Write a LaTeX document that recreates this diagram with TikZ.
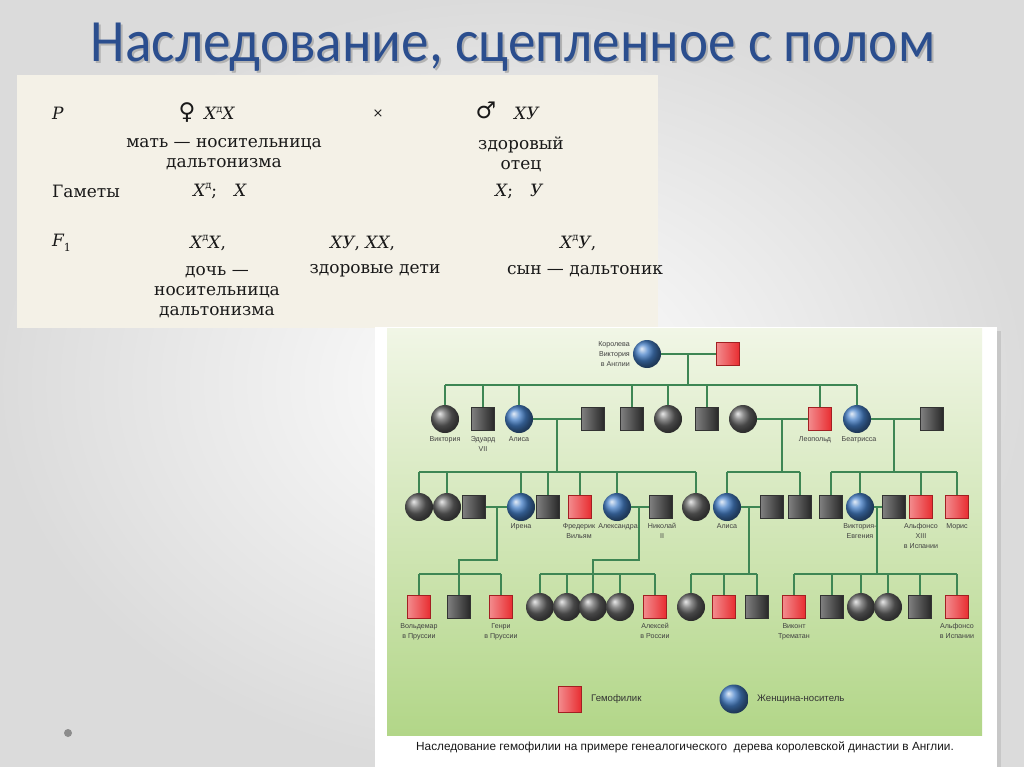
\documentclass[tikz,border=0pt]{standalone}
\usepackage{fontspec}
\setmainfont{DejaVu Serif}
\newfontfamily\titlefont{Carlito}
\newfontfamily\pedfont{Liberation Sans}
\newfontfamily\symfont{DejaVu Sans}
\usetikzlibrary{positioning,shadings}

\definecolor{titleblue}{RGB}{43,78,142}
\definecolor{kingreen}{RGB}{62,134,84}
\definecolor{carrierblue}{RGB}{70,128,200}
\definecolor{hemored}{RGB}{232,44,48}
\definecolor{paper}{RGB}{244,241,231}
\definecolor{paneltop}{RGB}{241,246,230}
\definecolor{panelbot}{RGB}{178,214,136}

\newcommand{\gsup}{\raisebox{0.8ex}{\upshape\fontsize{10}{10}\selectfont д}}
\newcommand{\ttltext}{Наследование, сцепленное с полом}

\tikzset{
  kin/.style={draw=kingreen, line width=2pt},
  carrier/.style={circle, minimum size=28pt, inner sep=0pt, ball color=carrierblue},
  healthyf/.style={circle, minimum size=28pt, inner sep=0pt, ball color=black!60},
  healthym/.style={rectangle, minimum size=23pt, inner sep=0pt, left color=black!50, right color=black!85, draw=black!80, line width=0.4pt},
  hemo/.style={rectangle, minimum size=23pt, inner sep=0pt, left color=hemored!55!white, right color=hemored, draw=hemored!70!black, line width=0.4pt},
  lbl/.style={font=\pedfont\fontsize{7.1}{10}\selectfont, align=center, text=black!75, anchor=north, inner sep=0pt},
  lgd/.style={font=\pedfont\fontsize{9.6}{11}\selectfont, text=black!80, anchor=west, inner sep=0pt},
  gen/.style={font=\fontsize{17}{20}\selectfont, text=black!90, inner sep=0pt},
  ttlstyle/.style={font=\titlefont\fontsize{60}{62}\selectfont, xscale=0.92, anchor=base, inner sep=0pt},
}

\begin{document}
\begin{tikzpicture}[x=1pt, y=-1pt]
  \useasboundingbox (0,0) rectangle (1024,767);
  \shade[inner color=white, outer color=black!14] (0,0) rectangle (1024,767);

  % title
  \node[ttlstyle, text=black!30] (ttlsh) at (515,64) {\ttltext};
  \node[ttlstyle, text=titleblue] (ttl) at (513,62) {\ttltext};

  % crossing scheme
  \fill[paper] (17,75) rectangle (658,328);
  \node[gen, anchor=west] (pp) at (52,113) {\itshape P};
  \node[gen, font=\symfont\fontsize{23}{23}\selectfont] (fem) at (187,113) {♀};
  \node[gen, anchor=west] (pfem) at (204,113) {\itshape X\gsup X};
  \node[gen, font=\fontsize{13}{13}\selectfont] (cross) at (378,114) {×};
  \node[gen, font=\symfont\fontsize{23}{23}\selectfont] (mal) at (486,110) {♂};
  \node[gen, anchor=west] (pmal) at (514,113) {\itshape XУ};
  \node[gen, align=center] (pfemtxt) at (224,154) {мать — носительница\\дальтонизма};
  \node[gen, align=center] (pmaltxt) at (521,154) {здоровый\\отец};

  \node[gen, anchor=west] (gam) at (52,191) {Гаметы};
  \node[gen, anchor=west] (gamf) at (193,191) {\itshape X\gsup\upshape;\quad\itshape X};
  \node[gen, anchor=west] (gamm) at (495,191) {\itshape X\upshape;\quad\itshape У};

  \node[gen, anchor=west] (ff) at (52,243) {\itshape F\raisebox{-0.5ex}{\upshape\fontsize{11}{11}\selectfont 1}};
  \node[gen, anchor=west] (fdau) at (190,243) {\itshape X\gsup X\upshape,};
  \node[gen, anchor=west] (fhea) at (330,243) {\itshape XУ\upshape,\ \itshape XX\upshape,};
  \node[gen, anchor=west] (fson) at (560,243) {\itshape X\gsup У\upshape,};
  \node[gen, align=center] (fdautxt) at (217,292) {дочь —\\носительница\\дальтонизма};
  \node[gen] (fheatxt) at (375,271) {здоровые дети};
  \node[gen, anchor=west] (fsontxt) at (507,271) {сын — дальтоник};

  % pedigree panel
  \fill[black!22] (380,331) rectangle (1001,767);
  \fill[white] (375,327) rectangle (997,767);
  \shade[top color=paneltop, bottom color=panelbot] (387,328) rectangle (982,735);

  % generation 0
  \node[carrier] (queen) at (647,354) {};
  \node[hemo] (albert) at (728,354) {};
  \node[lbl, anchor=east, align=right] (queentxt) at (630,354) {Королева\\Виктория\\в Англии};

  % generation 1
  \node[healthyf] (vic1) at (445,419) {};
  \node[healthym] (edw) at (483,419) {};
  \node[carrier] (ali1) at (519,419) {};
  \node[healthym] (ali1m) at (593,419) {};
  \node[healthym] (s4) at (632,419) {};
  \node[healthyf] (s5) at (668,419) {};
  \node[healthym] (s6) at (707,419) {};
  \node[healthyf] (leow) at (743,419) {};
  \node[hemo] (leo) at (820,419) {};
  \node[carrier] (bea) at (857,419) {};
  \node[healthym] (beam) at (932,419) {};

  % generation 2
  \node[healthyf] (c1) at (419,507) {};
  \node[healthyf] (c2) at (447,507) {};
  \node[healthym] (irenm) at (474,507) {};
  \node[carrier] (iren) at (521,507) {};
  \node[healthym] (c5) at (548,507) {};
  \node[hemo] (fred) at (580,507) {};
  \node[carrier] (alex) at (617,507) {};
  \node[healthym] (nik) at (661,507) {};
  \node[healthyf] (c9) at (696,507) {};
  \node[carrier] (ali2) at (727,507) {};
  \node[healthym] (ali2m) at (772,507) {};
  \node[healthym] (c12) at (800,507) {};
  \node[healthym] (c13) at (831,507) {};
  \node[carrier] (vicev) at (860,507) {};
  \node[healthym] (vicevm) at (894,507) {};
  \node[hemo] (alf) at (921,507) {};
  \node[hemo] (mor) at (957,507) {};

  % generation 3
  \node[hemo] (vol) at (419,607) {};
  \node[healthym] (d2) at (459,607) {};
  \node[hemo] (hen) at (501,607) {};
  \node[healthyf] (d4) at (540,607) {};
  \node[healthyf] (d5) at (567,607) {};
  \node[healthyf] (d6) at (593,607) {};
  \node[healthyf] (d7) at (620,607) {};
  \node[hemo] (alek) at (655,607) {};
  \node[healthyf] (d9) at (691,607) {};
  \node[hemo] (d10) at (724,607) {};
  \node[healthym] (d11) at (757,607) {};
  \node[hemo] (vik) at (794,607) {};
  \node[healthym] (d13) at (832,607) {};
  \node[healthyf] (d14) at (861,607) {};
  \node[healthyf] (d15) at (888,607) {};
  \node[healthym] (d16) at (920,607) {};
  \node[hemo] (alf2) at (957,607) {};

  % marriages and descent
  \coordinate (m0) at (688,354);
  \coordinate (sib1) at (688,385);
  \draw[kin] (queen) -- (albert);
  \draw[kin] (m0) -- (sib1);
  \draw[kin] (vic1 |- sib1) -- (bea |- sib1);
  \foreach \c in {vic1,edw,ali1,s4,s5,s6,leo,bea}
  {
  \draw[kin] (\c |- sib1) -- (\c);
  }

  \coordinate (m1) at (557,419);
  \coordinate (sib2a) at (557,472);
  \coordinate (m2) at (782,419);
  \coordinate (sib2b) at (782,472);
  \coordinate (m3) at (894,419);
  \coordinate (sib2c) at (894,472);
  \draw[kin] (ali1) -- (ali1m);
  \draw[kin] (leow) -- (leo);
  \draw[kin] (bea) -- (beam);
  \draw[kin] (m1) -- (sib2a);
  \draw[kin] (m2) -- (sib2b);
  \draw[kin] (m3) -- (sib2c);
  \draw[kin] (c1 |- sib2a) -- (c9 |- sib2a);
  \draw[kin] (ali2 |- sib2b) -- (c12 |- sib2b);
  \draw[kin] (c13 |- sib2c) -- (mor |- sib2c);
  \foreach \c in {c1,c2,iren,c5,fred,alex,c9}
  {
  \draw[kin] (\c |- sib2a) -- (\c);
  }
  \foreach \c in {ali2,c12}
  {
  \draw[kin] (\c |- sib2b) -- (\c);
  }
  \foreach \c in {c13,vicev,alf,mor}
  {
  \draw[kin] (\c |- sib2c) -- (\c);
  }

  \coordinate (m4) at (497,507);
  \coordinate (j4) at (497,560);
  \coordinate (sib3a) at (459,574);
  \coordinate (m5) at (639,507);
  \coordinate (j5) at (639,560);
  \coordinate (sib3b) at (593,574);
  \coordinate (m6) at (749,507);
  \coordinate (sib3c) at (749,574);
  \coordinate (m7) at (877,507);
  \coordinate (sib3d) at (877,574);
  \draw[kin] (irenm) -- (iren);
  \draw[kin] (alex) -- (nik);
  \draw[kin] (ali2) -- (ali2m);
  \draw[kin] (vicev) -- (vicevm);
  \draw[kin] (m4) -- (j4) -| (d2);
  \draw[kin] (m5) -- (j5) -| (d6);
  \draw[kin] (m6) -- (sib3c);
  \draw[kin] (m7) -- (sib3d);
  \draw[kin] (vol |- sib3a) -- (hen |- sib3a);
  \draw[kin] (d4 |- sib3b) -- (alek |- sib3b);
  \draw[kin] (d9 |- sib3c) -- (d11 |- sib3c);
  \draw[kin] (vik |- sib3d) -- (alf2 |- sib3d);
  \foreach \c in {vol,hen}
  {
  \draw[kin] (\c |- sib3a) -- (\c);
  }
  \foreach \c in {d4,d5,d7,alek}
  {
  \draw[kin] (\c |- sib3b) -- (\c);
  }
  \foreach \c in {d9,d10,d11}
  {
  \draw[kin] (\c |- sib3c) -- (\c);
  }
  \foreach \c in {vik,d13,d14,d15,d16,alf2}
  {
  \draw[kin] (\c |- sib3d) -- (\c);
  }

  % names
  \node[lbl] (vic1txt) at (445,436) {Виктория};
  \node[lbl] (edwtxt) at (483,436) {Эдуард\\VII};
  \node[lbl] (ali1txt) at (519,436) {Алиса};
  \node[lbl] (leotxt) at (815,436) {Леопольд};
  \node[lbl] (beatxt) at (859,436) {Беатрисса};

  \node[lbl] (irentxt) at (521,523) {Ирена};
  \node[lbl] (fredtxt) at (579,523) {Фредерик\\Вильям};
  \node[lbl] (alextxt) at (618,523) {Александра};
  \node[lbl] (niktxt) at (662,523) {Николай\\II};
  \node[lbl] (ali2txt) at (727,523) {Алиса};
  \node[lbl] (vicevtxt) at (860,523) {Виктория-\\Евгения};
  \node[lbl] (alftxt) at (921,523) {Альфонсо\\XIII\\в Испании};
  \node[lbl] (mortxt) at (957,523) {Морис};

  \node[lbl] (voltxt) at (419,623) {Вольдемар\\в Пруссии};
  \node[lbl] (hentxt) at (501,623) {Генри\\в Пруссии};
  \node[lbl] (alektxt) at (655,623) {Алексей\\в России};
  \node[lbl] (viktxt) at (794,623) {Виконт\\Трематан};
  \node[lbl] (alf2txt) at (957,623) {Альфонсо\\в Испании};

  % legend
  \node[hemo, minimum height=26pt] (lgh) at (570,699) {};
  \node[lgd] (lghtxt) at (591,699) {Гемофилик};
  \node[carrier, minimum size=29pt] (lgc) at (734,699) {};
  \node[lgd] (lgctxt) at (757,699) {Женщина-носитель};

  \node[font=\pedfont\fontsize{11.8}{13}\selectfont, text=black!90, inner sep=0pt] (caption) at (685,747) {Наследование гемофилии на примере генеалогического\ \ дерева королевской династии в Англии.};

  \fill[black!45] (68,733) circle (4);
\end{tikzpicture}
\end{document}
